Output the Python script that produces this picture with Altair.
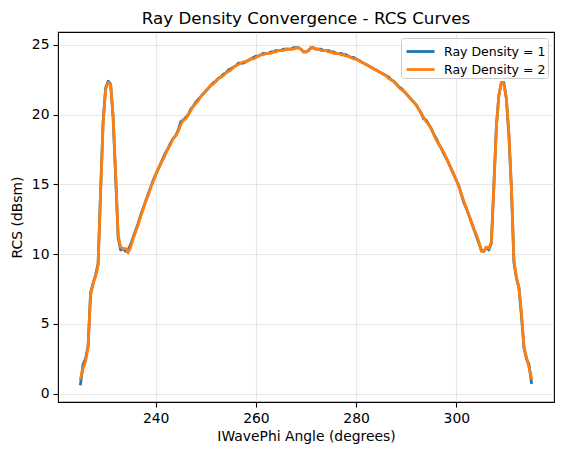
import altair as alt
import pandas as pd
import numpy as np

# Angles: 225 to 315 degrees in 0.5-degree steps
angles = [225 + 0.5 * i for i in range(181)]

series_names = ["Ray Density = 1", "Ray Density = 2"]

rcs_density_1 = [
    0.7, 2.1, 2.5, 3.4, 7.2, 7.9, 8.5, 9.3, 14.5, 19.5,      # 225.0-229.5
    21.9, 22.4, 22.2, 19.8, 15.6, 11.2, 10.3, 10.4, 10.2, 10.3,  # 230.0-234.5
    10.7, 11.2, 11.7, 12.2, 12.8, 13.3, 13.8, 14.3, 14.8, 15.3,  # 235.0-239.5
    15.7, 16.1, 16.5, 16.9, 17.3, 17.6, 18.0, 18.3, 18.5, 18.9,  # 240.0-244.5
    19.5, 19.6, 19.8, 20.0, 20.4, 20.6, 20.9, 21.1, 21.3, 21.5,  # 245.0-249.5
    21.7, 21.9, 22.1, 22.3, 22.4, 22.6, 22.7, 22.9, 23.0, 23.2,  # 250.0-254.5
    23.3, 23.4, 23.5, 23.7, 23.7, 23.7, 23.8, 23.9, 24.0, 24.1,  # 255.0-259.5
    24.2, 24.2, 24.3, 24.4, 24.4, 24.4, 24.5, 24.5, 24.6, 24.6,  # 260.0-264.5
    24.6, 24.7, 24.7, 24.7, 24.7, 24.8, 24.8, 24.8, 24.7, 24.5,  # 265.0-269.5
    24.5, 24.6, 24.8, 24.8, 24.7, 24.7, 24.7, 24.6, 24.6, 24.6,  # 270.0-274.5
    24.5, 24.5, 24.4, 24.4, 24.4, 24.3, 24.3, 24.2, 24.1, 24.1,  # 275.0-279.5
    24.0, 23.9, 23.8, 23.7, 23.6, 23.5, 23.4, 23.3, 23.2, 23.1,  # 280.0-284.5
    23.0, 22.9, 22.8, 22.7, 22.5, 22.4, 22.2, 22.0, 21.9, 21.7,  # 285.0-289.5
    21.5, 21.3, 21.1, 20.9, 20.7, 20.4, 20.1, 19.7, 19.6, 19.3,  # 290.0-294.5
    19.0, 18.6, 18.3, 17.9, 17.6, 17.2, 16.9, 16.5, 16.1, 15.7,  # 295.0-299.5
    15.3, 14.9, 14.3, 13.7, 13.3, 12.8, 12.3, 11.8, 11.3, 10.8,  # 300.0-304.5
    10.3, 10.2, 10.5, 10.3, 10.8, 15.0, 19.2, 21.4, 22.3, 22.3,  # 305.0-309.5
    21.1, 18.5, 14.7, 9.4, 8.3, 7.6, 5.6, 3.3, 2.5, 2.1,        # 310.0-314.5
    0.8,                                                         # 315.0
]

rcs_density_2 = [
    1.1, 1.8, 2.3, 3.3, 7.0, 7.9, 8.4, 9.2, 14.3, 19.3,
    21.8, 22.3, 22.2, 19.9, 15.8, 11.4, 10.5, 10.4, 10.4, 10.1,
    10.5, 11.1, 11.6, 12.1, 12.7, 13.2, 13.8, 14.2, 14.8, 15.2,
    15.7, 16.1, 16.5, 16.8, 17.2, 17.6, 17.9, 18.3, 18.5, 18.8,
    19.3, 19.6, 19.7, 20.0, 20.3, 20.6, 20.8, 21.0, 21.3, 21.5,
    21.7, 21.9, 22.1, 22.2, 22.4, 22.6, 22.7, 22.8, 23.0, 23.1,
    23.2, 23.4, 23.5, 23.6, 23.7, 23.8, 23.8, 23.9, 24.0, 24.0,
    24.1, 24.2, 24.3, 24.3, 24.4, 24.4, 24.4, 24.5, 24.5, 24.6,
    24.6, 24.6, 24.7, 24.7, 24.7, 24.7, 24.8, 24.8, 24.7, 24.5,
    24.5, 24.6, 24.8, 24.8, 24.7, 24.7, 24.6, 24.6, 24.6, 24.5,
    24.5, 24.4, 24.4, 24.4, 24.3, 24.3, 24.2, 24.2, 24.1, 24.0,
    24.0, 23.9, 23.8, 23.7, 23.6, 23.5, 23.4, 23.3, 23.2, 23.1,
    23.0, 22.9, 22.8, 22.6, 22.5, 22.4, 22.2, 22.0, 21.8, 21.7,
    21.5, 21.3, 21.1, 20.9, 20.7, 20.4, 20.1, 19.8, 19.5, 19.3,
    19.0, 18.6, 18.2, 17.9, 17.6, 17.3, 16.9, 16.5, 16.1, 15.7,
    15.3, 14.9, 14.3, 13.8, 13.3, 12.8, 12.3, 11.8, 11.4, 10.9,
    10.2, 10.2, 10.5, 10.4, 10.9, 14.8, 19.1, 21.4, 22.3, 22.2,
    21.2, 18.6, 14.8, 9.6, 8.3, 7.6, 5.8, 3.4, 2.6, 1.9,
    1.1,
]

x_ticks = [240, 260, 280, 300]
y_ticks = [0, 5, 10, 15, 20, 25]
colors = ["#1f77b4", "#ff7f0e"]

df = pd.concat([
    pd.DataFrame({"angle": angles, "rcs": rcs_density_1, "series": series_names[0], "order": 0}),
    pd.DataFrame({"angle": angles, "rcs": rcs_density_2, "series": series_names[1], "order": 1}),
])

FONT = "DejaVu Sans"

chart = alt.Chart(df).mark_line(
    strokeWidth=2.8, strokeCap="square", strokeJoin="round"
).encode(
    x=alt.X(
        "angle:Q",
        scale=alt.Scale(domain=[220.5, 319.5], nice=False, zero=False),
        axis=alt.Axis(
            title="IWavePhi Angle (degrees)", values=x_ticks, format="d",
            grid=True, gridColor="#b0b0b0", gridOpacity=0.3, gridWidth=1.1,
            domain=False, tickColor="black", tickSize=5, tickWidth=1.1,
            labelFont=FONT, labelFontSize=13.9, labelColor="black", labelPadding=4,
            titleFont=FONT, titleFontSize=13.9, titleFontWeight="normal",
            titleColor="black", titlePadding=5,
        ),
    ),
    y=alt.Y(
        "rcs:Q",
        scale=alt.Scale(domain=[-0.6, 25.93], nice=False, zero=False),
        axis=alt.Axis(
            title="RCS (dBsm)", values=y_ticks, format="d",
            grid=True, gridColor="#b0b0b0", gridOpacity=0.3, gridWidth=1.1,
            domain=False, tickColor="black", tickSize=5, tickWidth=1.1,
            labelFont=FONT, labelFontSize=13.9, labelColor="black", labelPadding=4,
            titleFont=FONT, titleFontSize=13.9, titleFontWeight="normal",
            titleColor="black", titlePadding=7,
        ),
    ),
    color=alt.Color(
        "series:N",
        scale=alt.Scale(domain=series_names, range=colors),
        legend=alt.Legend(
            title=None, orient="none", legendX=343, legendY=6,
            symbolType="M-0.8,0H2", symbolSize=400, symbolStrokeWidth=2.8,
            labelFont=FONT, labelFontSize=12.5, labelColor="black",
            fillColor="rgba(255,255,255,0.8)", strokeColor="#cccccc",
            cornerRadius=3, padding=2, rowPadding=-1, labelOffset=18,
        ),
    ),
    order=alt.Order("order:Q"),
).properties(
    width=496,
    height=370,
    title=alt.TitleParams(
        "Ray Density Convergence - RCS Curves",
        font=FONT, fontSize=16.7, fontWeight="normal", color="black",
        anchor="middle", offset=4,
    ),
    padding={"left": 50, "top": 24, "right": 1, "bottom": 50},
    autosize=alt.AutoSizeParams(type="none"),
).configure_view(
    stroke="black", strokeWidth=1.1
)

chart.save("out.html", embed_options={"renderer": "svg", "actions": False})
